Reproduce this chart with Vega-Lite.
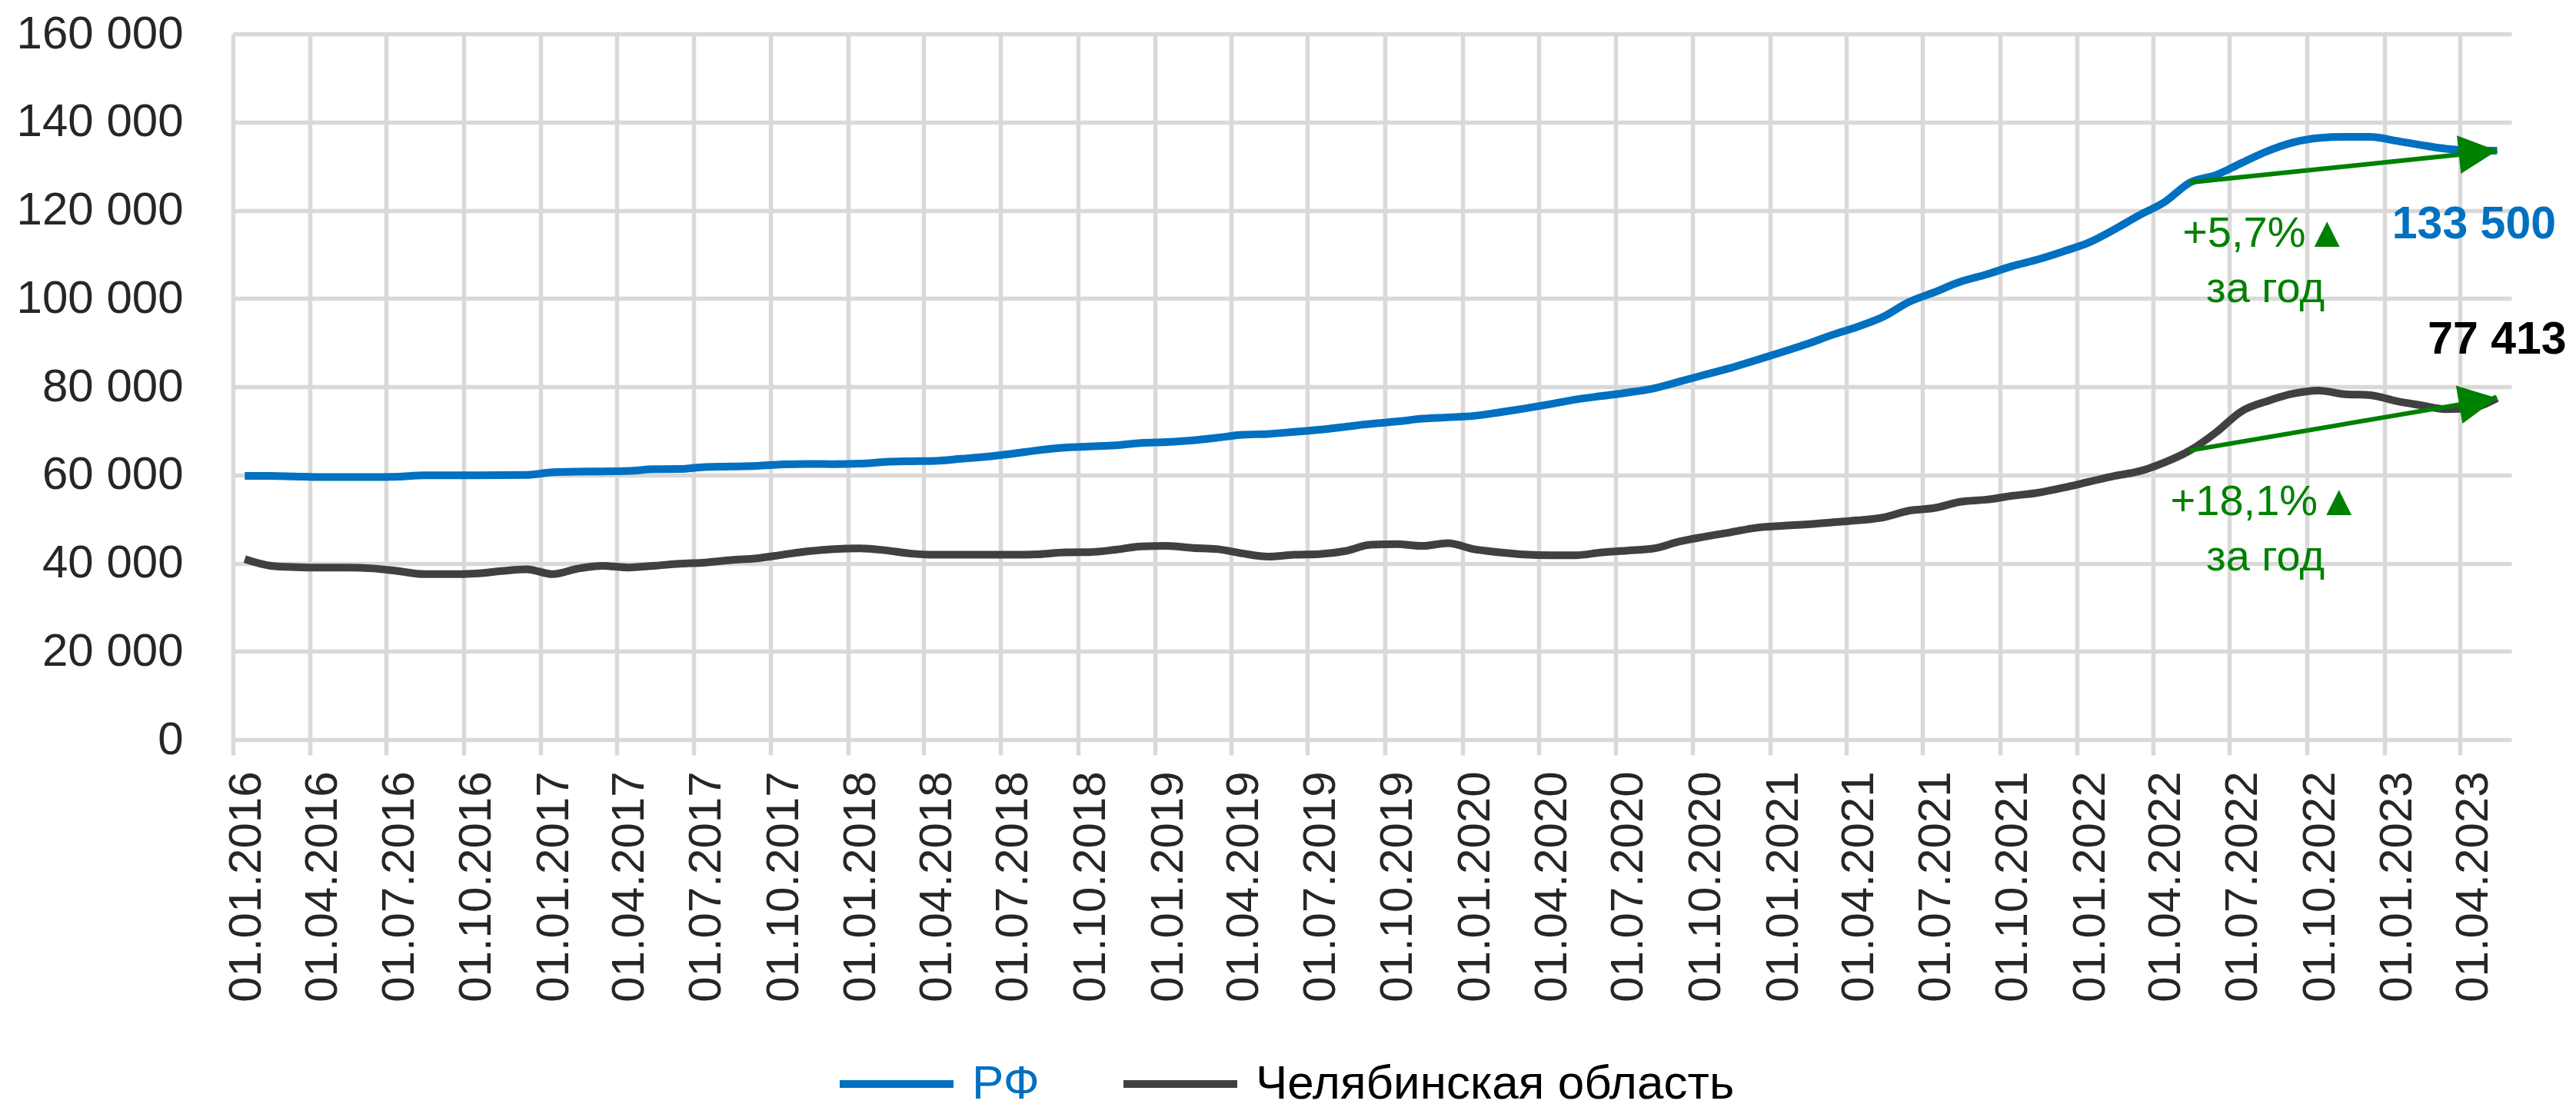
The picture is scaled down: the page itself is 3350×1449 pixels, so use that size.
{
  "$schema": "https://vega.github.io/schema/vega-lite/v6.json",
  "width": 2963,
  "height": 918,
  "autosize": {"type": "none"},
  "padding": {"left": 303, "top": 44, "right": 84, "bottom": 487},
  "background": "white",
  "config": {
    "locale": {"number": {"decimal": ",", "thousands": " ", "grouping": [3], "currency": ["", ""]}},
    "view": {"stroke": null},
    "font": "Liberation Sans",
    "axisX": {
      "labelAngle": -90,
      "labelAlign": "right",
      "labelBaseline": "middle",
      "labelOffset": 17,
      "labelPadding": 21,
      "labelLimit": 1000,
      "tickSize": 20,
      "tickColor": "#d9d9d9",
      "tickWidth": 5.5,
      "domain": false,
      "grid": true,
      "gridColor": "#d9d9d9",
      "gridWidth": 5.5,
      "labelFont": "Liberation Sans",
      "labelFontSize": 60,
      "labelColor": "#262626",
      "labelOverlap": false,
      "labelFlush": false
    },
    "axisY": {
      "ticks": false,
      "domain": false,
      "grid": true,
      "gridColor": "#d9d9d9",
      "gridWidth": 5.5,
      "labelPadding": 65,
      "labelLimit": 1000,
      "labelFont": "Liberation Sans",
      "labelFontSize": 60,
      "labelColor": "#262626"
    }
  },
  "datasets": {
    "prices": [
      {"date": "2016-01-15", "series": "РФ", "value": 59800},
      {"date": "2016-02-15", "series": "РФ", "value": 59800},
      {"date": "2016-03-15", "series": "РФ", "value": 59650},
      {"date": "2016-04-15", "series": "РФ", "value": 59500},
      {"date": "2016-05-15", "series": "РФ", "value": 59500},
      {"date": "2016-06-15", "series": "РФ", "value": 59500},
      {"date": "2016-07-15", "series": "РФ", "value": 59600},
      {"date": "2016-08-15", "series": "РФ", "value": 59900},
      {"date": "2016-09-15", "series": "РФ", "value": 59900},
      {"date": "2016-10-15", "series": "РФ", "value": 59900},
      {"date": "2016-11-15", "series": "РФ", "value": 59950},
      {"date": "2016-12-15", "series": "РФ", "value": 60000},
      {"date": "2017-01-15", "series": "РФ", "value": 60600},
      {"date": "2017-02-15", "series": "РФ", "value": 60750},
      {"date": "2017-03-15", "series": "РФ", "value": 60800},
      {"date": "2017-04-15", "series": "РФ", "value": 60900},
      {"date": "2017-05-15", "series": "РФ", "value": 61300},
      {"date": "2017-06-15", "series": "РФ", "value": 61350},
      {"date": "2017-07-15", "series": "РФ", "value": 61800},
      {"date": "2017-08-15", "series": "РФ", "value": 61900},
      {"date": "2017-09-15", "series": "РФ", "value": 62050},
      {"date": "2017-10-15", "series": "РФ", "value": 62400},
      {"date": "2017-11-15", "series": "РФ", "value": 62500},
      {"date": "2017-12-15", "series": "РФ", "value": 62450},
      {"date": "2018-01-15", "series": "РФ", "value": 62550},
      {"date": "2018-02-15", "series": "РФ", "value": 62950},
      {"date": "2018-03-15", "series": "РФ", "value": 63100},
      {"date": "2018-04-15", "series": "РФ", "value": 63200},
      {"date": "2018-05-15", "series": "РФ", "value": 63650},
      {"date": "2018-06-15", "series": "РФ", "value": 64150},
      {"date": "2018-07-15", "series": "РФ", "value": 64800},
      {"date": "2018-08-15", "series": "РФ", "value": 65600},
      {"date": "2018-09-15", "series": "РФ", "value": 66200},
      {"date": "2018-10-15", "series": "РФ", "value": 66450},
      {"date": "2018-11-15", "series": "РФ", "value": 66700},
      {"date": "2018-12-15", "series": "РФ", "value": 67250},
      {"date": "2019-01-15", "series": "РФ", "value": 67450},
      {"date": "2019-02-15", "series": "РФ", "value": 67850},
      {"date": "2019-03-15", "series": "РФ", "value": 68400},
      {"date": "2019-04-15", "series": "РФ", "value": 69100},
      {"date": "2019-05-15", "series": "РФ", "value": 69300},
      {"date": "2019-06-15", "series": "РФ", "value": 69750},
      {"date": "2019-07-15", "series": "РФ", "value": 70250},
      {"date": "2019-08-15", "series": "РФ", "value": 70900},
      {"date": "2019-09-15", "series": "РФ", "value": 71600},
      {"date": "2019-10-15", "series": "РФ", "value": 72100},
      {"date": "2019-11-15", "series": "РФ", "value": 72750},
      {"date": "2019-12-15", "series": "РФ", "value": 73050},
      {"date": "2020-01-15", "series": "РФ", "value": 73400},
      {"date": "2020-02-15", "series": "РФ", "value": 74200},
      {"date": "2020-03-15", "series": "РФ", "value": 75050},
      {"date": "2020-04-15", "series": "РФ", "value": 76050},
      {"date": "2020-05-15", "series": "РФ", "value": 77100},
      {"date": "2020-06-15", "series": "РФ", "value": 77900},
      {"date": "2020-07-15", "series": "РФ", "value": 78650},
      {"date": "2020-08-15", "series": "РФ", "value": 79600},
      {"date": "2020-09-15", "series": "РФ", "value": 81150},
      {"date": "2020-10-15", "series": "РФ", "value": 82700},
      {"date": "2020-11-15", "series": "РФ", "value": 84250},
      {"date": "2020-12-15", "series": "РФ", "value": 86000},
      {"date": "2021-01-15", "series": "РФ", "value": 87850},
      {"date": "2021-02-15", "series": "РФ", "value": 89750},
      {"date": "2021-03-15", "series": "РФ", "value": 91700},
      {"date": "2021-04-15", "series": "РФ", "value": 93600},
      {"date": "2021-05-15", "series": "РФ", "value": 95800},
      {"date": "2021-06-15", "series": "РФ", "value": 99200},
      {"date": "2021-07-15", "series": "РФ", "value": 101400},
      {"date": "2021-08-15", "series": "РФ", "value": 103800},
      {"date": "2021-09-15", "series": "РФ", "value": 105450},
      {"date": "2021-10-15", "series": "РФ", "value": 107300},
      {"date": "2021-11-15", "series": "РФ", "value": 108850},
      {"date": "2021-12-15", "series": "РФ", "value": 110650},
      {"date": "2022-01-15", "series": "РФ", "value": 112700},
      {"date": "2022-02-15", "series": "РФ", "value": 115750},
      {"date": "2022-03-15", "series": "РФ", "value": 118800},
      {"date": "2022-04-15", "series": "РФ", "value": 121900},
      {"date": "2022-05-15", "series": "РФ", "value": 126300},
      {"date": "2022-06-15", "series": "РФ", "value": 128000},
      {"date": "2022-07-15", "series": "РФ", "value": 130700},
      {"date": "2022-08-15", "series": "РФ", "value": 133400},
      {"date": "2022-09-15", "series": "РФ", "value": 135400},
      {"date": "2022-10-15", "series": "РФ", "value": 136400},
      {"date": "2022-11-15", "series": "РФ", "value": 136650},
      {"date": "2022-12-15", "series": "РФ", "value": 136650},
      {"date": "2023-01-15", "series": "РФ", "value": 135750},
      {"date": "2023-02-15", "series": "РФ", "value": 134750},
      {"date": "2023-03-15", "series": "РФ", "value": 133950},
      {"date": "2023-04-15", "series": "РФ", "value": 133550},
      {"date": "2023-05-15", "series": "РФ", "value": 133500},
      {"date": "2016-01-15", "series": "Челябинская область", "value": 40900},
      {"date": "2016-02-15", "series": "Челябинская область", "value": 39400},
      {"date": "2016-03-15", "series": "Челябинская область", "value": 39100},
      {"date": "2016-04-15", "series": "Челябинская область", "value": 39000},
      {"date": "2016-05-15", "series": "Челябинская область", "value": 39000},
      {"date": "2016-06-15", "series": "Челябинская область", "value": 38800},
      {"date": "2016-07-15", "series": "Челябинская область", "value": 38200},
      {"date": "2016-08-15", "series": "Челябинская область", "value": 37500},
      {"date": "2016-09-15", "series": "Челябинская область", "value": 37500},
      {"date": "2016-10-15", "series": "Челябинская область", "value": 37650},
      {"date": "2016-11-15", "series": "Челябинская область", "value": 38200},
      {"date": "2016-12-15", "series": "Челябинская область", "value": 38600},
      {"date": "2017-01-15", "series": "Челябинская область", "value": 37500},
      {"date": "2017-02-15", "series": "Челябинская область", "value": 38800},
      {"date": "2017-03-15", "series": "Челябинская область", "value": 39400},
      {"date": "2017-04-15", "series": "Челябинская область", "value": 39000},
      {"date": "2017-05-15", "series": "Челябинская область", "value": 39400},
      {"date": "2017-06-15", "series": "Челябинская область", "value": 39850},
      {"date": "2017-07-15", "series": "Челябинская область", "value": 40150},
      {"date": "2017-08-15", "series": "Челябинская область", "value": 40700},
      {"date": "2017-09-15", "series": "Челябинская область", "value": 41100},
      {"date": "2017-10-15", "series": "Челябинская область", "value": 41900},
      {"date": "2017-11-15", "series": "Челябинская область", "value": 42700},
      {"date": "2017-12-15", "series": "Челябинская область", "value": 43200},
      {"date": "2018-01-15", "series": "Челябинская область", "value": 43350},
      {"date": "2018-02-15", "series": "Челябинская область", "value": 42900},
      {"date": "2018-03-15", "series": "Челябинская область", "value": 42200},
      {"date": "2018-04-15", "series": "Челябинская область", "value": 41900},
      {"date": "2018-05-15", "series": "Челябинская область", "value": 41900},
      {"date": "2018-06-15", "series": "Челябинская область", "value": 41900},
      {"date": "2018-07-15", "series": "Челябинская область", "value": 41900},
      {"date": "2018-08-15", "series": "Челябинская область", "value": 42000},
      {"date": "2018-09-15", "series": "Челябинская область", "value": 42450},
      {"date": "2018-10-15", "series": "Челябинская область", "value": 42500},
      {"date": "2018-11-15", "series": "Челябинская область", "value": 43050},
      {"date": "2018-12-15", "series": "Челябинская область", "value": 43800},
      {"date": "2019-01-15", "series": "Челябинская область", "value": 43900},
      {"date": "2019-02-15", "series": "Челябинская область", "value": 43450},
      {"date": "2019-03-15", "series": "Челябинская область", "value": 43200},
      {"date": "2019-04-15", "series": "Челябинская область", "value": 42200},
      {"date": "2019-05-15", "series": "Челябинская область", "value": 41500},
      {"date": "2019-06-15", "series": "Челябинская область", "value": 41900},
      {"date": "2019-07-15", "series": "Челябинская область", "value": 42050},
      {"date": "2019-08-15", "series": "Челябинская область", "value": 42750},
      {"date": "2019-09-15", "series": "Челябинская область", "value": 44200},
      {"date": "2019-10-15", "series": "Челябинская область", "value": 44300},
      {"date": "2019-11-15", "series": "Челябинская область", "value": 43900},
      {"date": "2019-12-15", "series": "Челябинская область", "value": 44550},
      {"date": "2020-01-15", "series": "Челябинская область", "value": 43150},
      {"date": "2020-02-15", "series": "Челябинская область", "value": 42450},
      {"date": "2020-03-15", "series": "Челябинская область", "value": 41950},
      {"date": "2020-04-15", "series": "Челябинская область", "value": 41800},
      {"date": "2020-05-15", "series": "Челябинская область", "value": 41800},
      {"date": "2020-06-15", "series": "Челябинская область", "value": 42450},
      {"date": "2020-07-15", "series": "Челябинская область", "value": 42850},
      {"date": "2020-08-15", "series": "Челябинская область", "value": 43300},
      {"date": "2020-09-15", "series": "Челябинская область", "value": 44900},
      {"date": "2020-10-15", "series": "Челябинская область", "value": 46000},
      {"date": "2020-11-15", "series": "Челябинская область", "value": 47000},
      {"date": "2020-12-15", "series": "Челябинская область", "value": 48000},
      {"date": "2021-01-15", "series": "Челябинская область", "value": 48450},
      {"date": "2021-02-15", "series": "Челябинская область", "value": 48800},
      {"date": "2021-03-15", "series": "Челябинская область", "value": 49250},
      {"date": "2021-04-15", "series": "Челябинская область", "value": 49700},
      {"date": "2021-05-15", "series": "Челябинская область", "value": 50350},
      {"date": "2021-06-15", "series": "Челябинская область", "value": 51900},
      {"date": "2021-07-15", "series": "Челябинская область", "value": 52500},
      {"date": "2021-08-15", "series": "Челябинская область", "value": 53900},
      {"date": "2021-09-15", "series": "Челябинская область", "value": 54400},
      {"date": "2021-10-15", "series": "Челябинская область", "value": 55250},
      {"date": "2021-11-15", "series": "Челябинская область", "value": 55950},
      {"date": "2021-12-15", "series": "Челябинская область", "value": 57100},
      {"date": "2022-01-15", "series": "Челябинская область", "value": 58450},
      {"date": "2022-02-15", "series": "Челябинская область", "value": 59800},
      {"date": "2022-03-15", "series": "Челябинская область", "value": 60800},
      {"date": "2022-04-15", "series": "Челябинская область", "value": 62850},
      {"date": "2022-05-15", "series": "Челябинская область", "value": 65549},
      {"date": "2022-06-15", "series": "Челябинская область", "value": 69650},
      {"date": "2022-07-15", "series": "Челябинская область", "value": 74400},
      {"date": "2022-08-15", "series": "Челябинская область", "value": 76750},
      {"date": "2022-09-15", "series": "Челябинская область", "value": 78450},
      {"date": "2022-10-15", "series": "Челябинская область", "value": 79150},
      {"date": "2022-11-15", "series": "Челябинская область", "value": 78300},
      {"date": "2022-12-15", "series": "Челябинская область", "value": 78100},
      {"date": "2023-01-15", "series": "Челябинская область", "value": 76750},
      {"date": "2023-02-15", "series": "Челябинская область", "value": 75750},
      {"date": "2023-03-15", "series": "Челябинская область", "value": 74900},
      {"date": "2023-04-15", "series": "Челябинская область", "value": 75200},
      {"date": "2023-05-15", "series": "Челябинская область", "value": 77413}
    ],
    "change": [
      {"series": "РФ", "start": "2022-05-15", "startValue": 126300, "end": "2023-05-15", "endValue": 133500, "label": "+5,7%▲\nза год"},
      {"series": "Челябинская область", "start": "2022-05-15", "startValue": 65549, "end": "2023-05-15", "endValue": 77413, "label": "+18,1%▲\nза год"}
    ]
  },
  "layer": [
    {
      "data": {"name": "prices"},
      "mark": {"type": "line", "strokeWidth": 10, "interpolate": "monotone", "strokeCap": "butt"},
      "encoding": {
        "x": {
          "field": "date", "type": "temporal", "title": null,
          "scale": {"type": "utc", "domain": [{"year": 2016, "month": 1, "date": 1, "utc": true}, {"year": 2023, "month": 6, "date": 1, "utc": true}]},
          "axis": {"format": "%d.%m.%Y", "tickCount": {"interval": "month", "step": 3}}
        },
        "y": {
          "field": "value", "type": "quantitative", "title": null,
          "scale": {"domain": [0, 160000], "nice": false},
          "axis": {"values": [0, 20000, 40000, 60000, 80000, 100000, 120000, 140000, 160000], "format": ",d"}
        },
        "color": {
          "field": "series", "type": "nominal",
          "scale": {"domain": ["РФ", "Челябинская область"], "range": ["#0070C0", "#404040"]},
          "legend": {
            "orient": "none",
            "legendX": 784,
            "legendY": 1287,
            "direction": "horizontal",
            "title": null,
            "symbolType": "stroke",
            "symbolSize": 21904,
            "symbolStrokeWidth": 10,
            "labelFont": "Liberation Sans",
            "labelFontSize": 62,
            "labelOffset": 19,
            "columnPadding": 89,
            "padding": 0,
            "labelLimit": 1000,
            "labelColor": {"expr": "datum.label == 'РФ' ? '#0070C0' : '#000000'"}
          }
        }
      }
    },
    {
      "data": {"name": "change"},
      "mark": {"type": "rule", "color": "#008000", "strokeWidth": 6},
      "encoding": {
        "x": {"field": "start", "type": "temporal", "title": null},
        "y": {"field": "startValue", "type": "quantitative", "title": null},
        "x2": {"field": "end"},
        "y2": {"field": "endValue"}
      }
    },
    {
      "data": {"name": "change"},
      "transform": [{"filter": "datum.series == 'РФ'"}],
      "mark": {"type": "point", "shape": "M0,0L-1,-0.5L-1,0.5Z", "filled": true, "color": "#008000", "opacity": 1, "size": 10000, "angle": 354.1, "strokeWidth": 0},
      "encoding": {
        "x": {"field": "end", "type": "temporal", "title": null},
        "y": {"field": "endValue", "type": "quantitative", "title": null}
      }
    },
    {
      "data": {"name": "change"},
      "transform": [{"filter": "datum.series == 'Челябинская область'"}],
      "mark": {"type": "point", "shape": "M0,0L-1,-0.5L-1,0.5Z", "filled": true, "color": "#008000", "opacity": 1, "size": 10000, "angle": 350.3, "strokeWidth": 0},
      "encoding": {
        "x": {"field": "end", "type": "temporal", "title": null},
        "y": {"field": "endValue", "type": "quantitative", "title": null}
      }
    },
    {
      "data": {"name": "change"},
      "mark": {"type": "text", "color": "#008000", "font": "Liberation Sans", "fontSize": 56, "align": "center", "baseline": "alphabetic", "dx": 98, "dy": 84, "lineBreak": "\n", "lineHeight": 72},
      "encoding": {
        "x": {"field": "start", "type": "temporal", "title": null},
        "y": {"field": "startValue", "type": "quantitative", "title": null},
        "text": {"field": "label", "type": "nominal"}
      }
    },
    {
      "data": {"name": "change"},
      "transform": [{"filter": "datum.series == 'РФ'"}],
      "mark": {"type": "text", "color": "#0070C0", "font": "Liberation Sans", "fontSize": 59, "fontWeight": "bold", "align": "center", "baseline": "alphabetic", "dx": -30, "dy": 114},
      "encoding": {
        "x": {"field": "end", "type": "temporal", "title": null},
        "y": {"field": "endValue", "type": "quantitative", "title": null},
        "text": {"field": "endValue", "type": "quantitative", "format": ",d"}
      }
    },
    {
      "data": {"name": "change"},
      "transform": [{"filter": "datum.series == 'Челябинская область'"}],
      "mark": {"type": "text", "color": "#000000", "font": "Liberation Sans", "fontSize": 59, "fontWeight": "bold", "align": "center", "baseline": "alphabetic", "dx": 0, "dy": -58},
      "encoding": {
        "x": {"field": "end", "type": "temporal", "title": null},
        "y": {"field": "endValue", "type": "quantitative", "title": null},
        "text": {"field": "endValue", "type": "quantitative", "format": ",d"}
      }
    }
  ]
}
